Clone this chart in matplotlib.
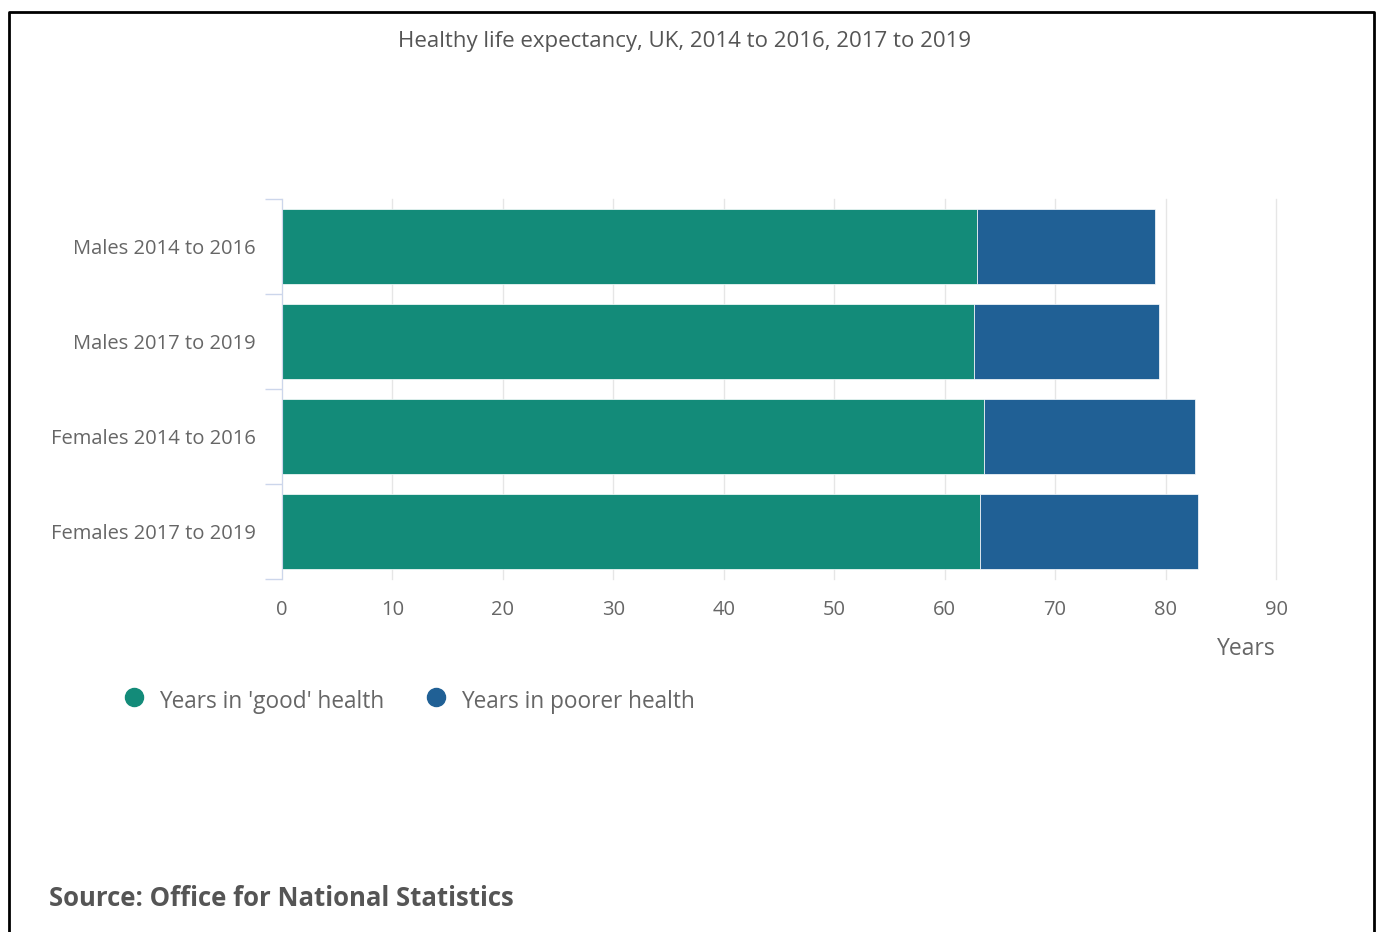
import matplotlib
matplotlib.use('Agg')
import matplotlib.pyplot as plt
from matplotlib.lines import Line2D
import numpy as np

plt.rcParams['font.family'] = ['Open Sans', 'DejaVu Sans']

# data
categories = ['Males 2014 to 2016', 'Males 2017 to 2019',
              'Females 2014 to 2016', 'Females 2017 to 2019']
good_health = [62.9, 62.7, 63.6, 63.2]
poorer_health = [16.1, 16.7, 19.1, 19.7]
series_names = ["Years in 'good' health", 'Years in poorer health']
colors = ['#138b79', '#206095']
xticks = [0, 10, 20, 30, 40, 50, 60, 70, 80, 90]

W, H = 1380, 932
fig = plt.figure(figsize=(W / 100, H / 100), dpi=100)

ax = fig.add_axes([282 / W, 1 - 579 / H, (1276 - 282) / W, (579 - 199) / H])
y = np.arange(len(categories))
ax.barh(y, good_health, height=0.79, color=colors[0], edgecolor='white', linewidth=0.5, zorder=3)
ax.barh(y, poorer_health, left=good_health, height=0.79, color=colors[1],
        edgecolor='white', linewidth=0.5, zorder=3)

ax.set_xlim(0, 90)
ax.set_ylim(len(categories) - 0.5, -0.5)
ax.set_xticks(xticks)
ax.set_yticks(y)
ax.set_yticklabels(categories)
ax.set_yticks(np.arange(len(categories) + 1) - 0.5, minor=True)

ax.tick_params(axis='y', which='major', length=0, pad=19, labelsize=14.5, labelcolor='#666666')
ax.tick_params(axis='y', which='minor', length=12, width=1, color='#ccd6eb')
ax.tick_params(axis='x', length=0, pad=15, labelsize=14.5, labelcolor='#666666')

ax.grid(axis='x', color='#e6e6e6', linewidth=1, zorder=0)
for gl in ax.get_xgridlines():
    gl.set_clip_on(False)
for s in ['top', 'right', 'bottom']:
    ax.spines[s].set_visible(False)
ax.spines['left'].set_color('#ccd6eb')
ax.spines['left'].set_zorder(4)

fig.text(685 / W, 1 - 42 / H, 'Healthy life expectancy, UK, 2014 to 2016, 2017 to 2019',
         ha='center', va='center', fontsize=16, color='#555555')
fig.text(1246 / W, 1 - 649 / H, 'Years', ha='center', va='center', fontsize=16.5, color='#666666')

# legend, drawn by hand
legend_x = [134, 436]
for name, c, lx in zip(series_names, colors, legend_x):
    fig.add_artist(Line2D([lx / W], [1 - 697 / H], marker='o', markersize=13, color=c,
                          linestyle='', transform=fig.transFigure))
    fig.text((lx + 25) / W, 1 - 702 / H, name, ha='left', va='center', fontsize=16.3, color='#666666')

fig.text(49 / W, 1 - 899 / H, 'Source: Office for National Statistics', ha='left', va='center',
         fontsize=18.5, fontweight='bold', color='#555555')

# outer frame
fig.add_artist(Line2D([9 / W, 9 / W, 1374 / W, 1374 / W], [0, 1 - 12 / H, 1 - 12 / H, 0],
                      color='black', linewidth=2, transform=fig.transFigure))

fig.savefig('out.png', dpi=100, facecolor='white')
